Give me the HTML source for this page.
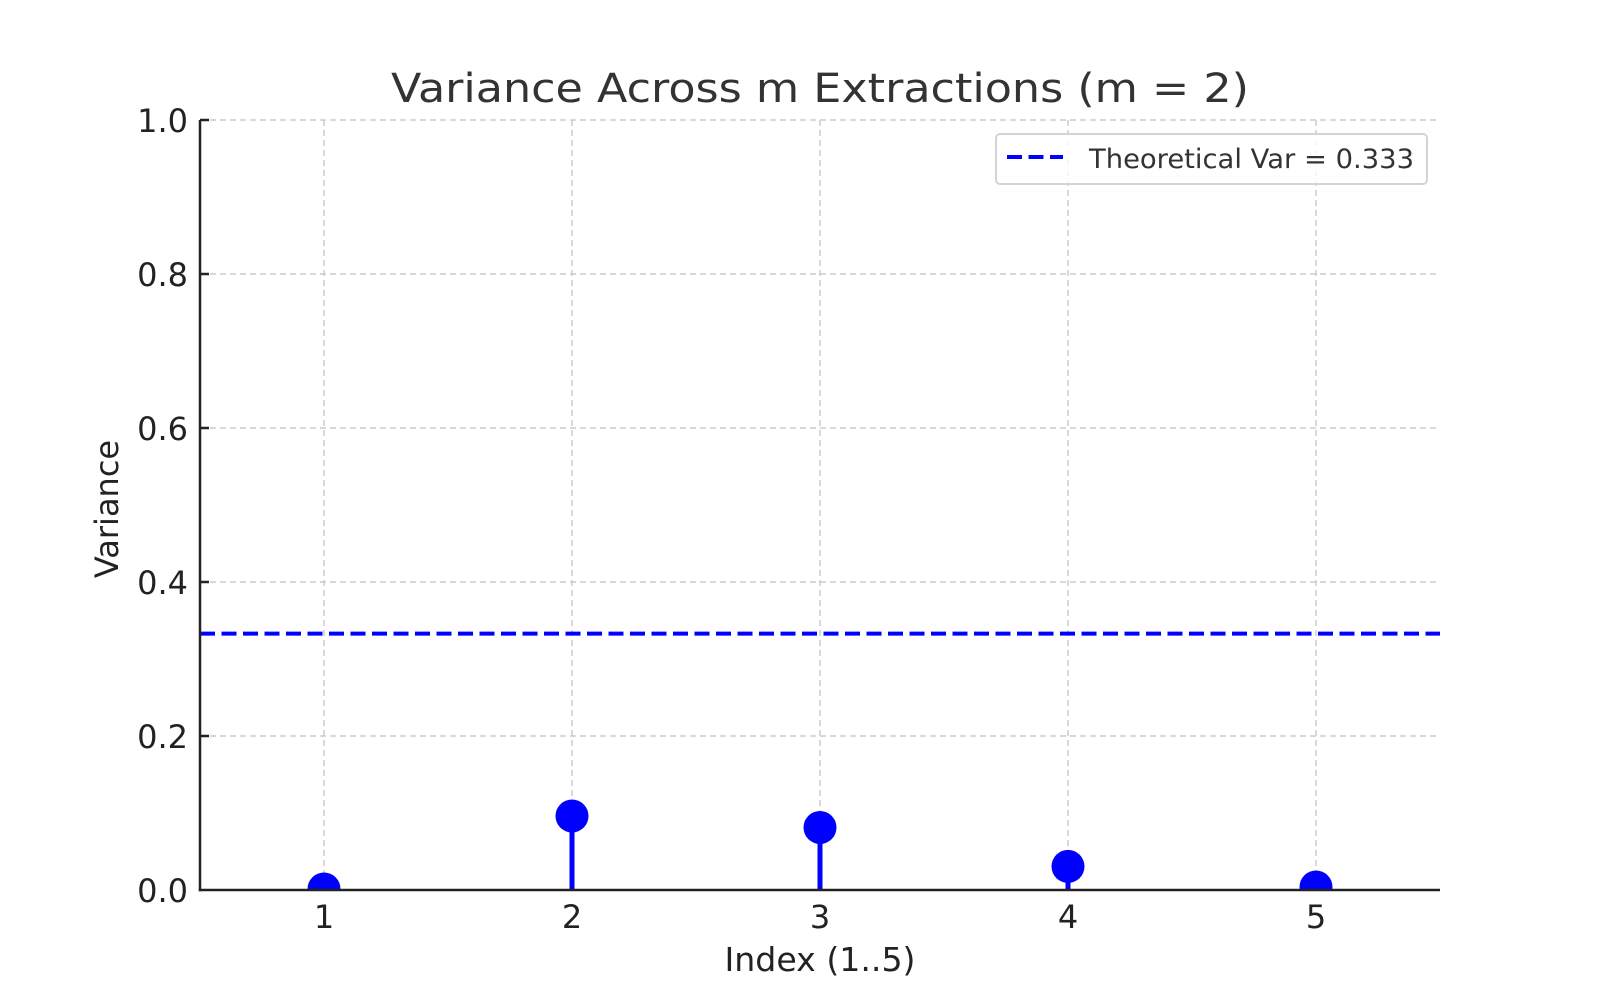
<!DOCTYPE html>
<html><head><meta charset="utf-8"><style>
html,body{margin:0;padding:0;background:#fff;}
svg{display:block;font-family:"DejaVu Sans","Liberation Sans",sans-serif;}
</style></head><body>
<svg width="1600" height="1000" viewBox="0 0 1600 1000" xmlns="http://www.w3.org/2000/svg">
<rect width="1600" height="1000" fill="#fff"/>
<g stroke="#cccccc" stroke-width="1.5" stroke-dasharray="6,4">
<line x1="200" y1="120" x2="1440" y2="120"/>
<line x1="200" y1="274" x2="1440" y2="274"/>
<line x1="200" y1="428" x2="1440" y2="428"/>
<line x1="200" y1="582" x2="1440" y2="582"/>
<line x1="200" y1="736" x2="1440" y2="736"/>
<line x1="324" y1="120" x2="324" y2="890"/>
<line x1="572" y1="120" x2="572" y2="890"/>
<line x1="820" y1="120" x2="820" y2="890"/>
<line x1="1068" y1="120" x2="1068" y2="890"/>
<line x1="1316" y1="120" x2="1316" y2="890"/>
</g>
<line x1="200" y1="633.6" x2="1440" y2="633.6" stroke="#0000ff" stroke-width="4" stroke-dasharray="15,6.5"/>
<defs><clipPath id="c"><rect x="200" y="120" width="1240" height="770"/></clipPath></defs>
<g clip-path="url(#c)" fill="#0000ff" stroke="#0000ff" stroke-width="5">
<line x1="324" y1="890" x2="324" y2="888"/>
<line x1="572" y1="890" x2="572" y2="816"/>
<line x1="820" y1="890" x2="820" y2="827.5"/>
<line x1="1068" y1="890" x2="1068" y2="866.4"/>
<line x1="1316" y1="890" x2="1316" y2="887"/>
<g stroke="none">
<circle cx="324" cy="889" r="16.5"/>
<circle cx="572" cy="816" r="16.5"/>
<circle cx="820" cy="827.5" r="16.5"/>
<circle cx="1068" cy="866.4" r="16.5"/>
<circle cx="1316" cy="887" r="16.5"/>
</g>
</g>
<g stroke="#222" stroke-width="2.5">
<line x1="200" y1="120" x2="200" y2="891.2"/>
<line x1="198.8" y1="890" x2="1440" y2="890"/>
<line x1="200" y1="120" x2="209" y2="120"/>
<line x1="200" y1="274" x2="209" y2="274"/>
<line x1="200" y1="428" x2="209" y2="428"/>
<line x1="200" y1="582" x2="209" y2="582"/>
<line x1="200" y1="736" x2="209" y2="736"/>
</g>
<g fill="#222" font-size="32" text-anchor="end">
<text x="188" y="132">1.0</text>
<text x="188" y="286">0.8</text>
<text x="188" y="440">0.6</text>
<text x="188" y="594">0.4</text>
<text x="188" y="748">0.2</text>
<text x="188" y="902">0.0</text>
</g>
<g fill="#222" font-size="32" text-anchor="middle">
<text x="324" y="928">1</text>
<text x="572" y="928">2</text>
<text x="820" y="928">3</text>
<text x="1068" y="928">4</text>
<text x="1316" y="928">5</text>
</g>
<text x="820" y="971" fill="#222" font-size="32.5" text-anchor="middle" textLength="191" lengthAdjust="spacingAndGlyphs">Index (1..5)</text>
<text transform="translate(118,509) rotate(-90)" fill="#222" font-size="32" text-anchor="middle">Variance</text>
<text x="820" y="102" fill="#333" font-size="40" text-anchor="middle" textLength="858" lengthAdjust="spacingAndGlyphs">Variance Across m Extractions (m = 2)</text>
<rect x="996" y="134" width="431" height="50" rx="4" fill="#fff" fill-opacity="0.8" stroke="#d4d4d4" stroke-width="2"/>
<line x1="1007" y1="157" x2="1063" y2="157" stroke="#0000ff" stroke-width="4" stroke-dasharray="15,6.5"/>
<text x="1089" y="168" fill="#333" font-size="27" textLength="325" lengthAdjust="spacingAndGlyphs">Theoretical Var = 0.333</text>
</svg>
</body></html>
